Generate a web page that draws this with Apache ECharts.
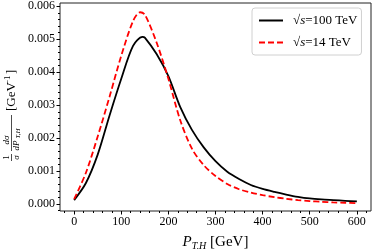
<!DOCTYPE html>
<html><head><meta charset="utf-8">
<script src="https://cdn.jsdelivr.net/npm/echarts@6/dist/echarts.min.js"></script>
<style>html,body{margin:0;padding:0;background:#fff}#c{width:374px;height:249px}</style>
</head><body><div id="c"></div>
<script>
// Data
const xBlack = [0, 25, 50, 75, 100, 125, 145, 150, 175, 200, 225, 250, 275, 300, 325, 350, 375, 400, 425, 450, 475, 500, 525, 550, 575, 600];
const yBlack = [0.00012, 0.00064, 0.00150, 0.00268, 0.00380, 0.00480, 0.00507, 0.00505, 0.00455, 0.00388, 0.00295, 0.00225, 0.00172, 0.00130, 0.00098, 0.00076, 0.00058, 0.00046, 0.00037, 0.00029, 0.00022, 0.00017, 0.00014, 0.00012, 0.00010, 0.00008];
const xRed = [0, 25, 50, 75, 100, 125, 140, 150, 175, 200, 225, 250, 275, 300, 325, 350, 375, 400, 425, 450, 475, 500, 525, 550, 575, 600];
const yRed = [0.00015, 0.00095, 0.00205, 0.00325, 0.00450, 0.00555, 0.00582, 0.00575, 0.00490, 0.00380, 0.00255, 0.00168, 0.00118, 0.00085, 0.00061, 0.00045, 0.00035, 0.00027, 0.00021, 0.00016, 0.00012, 0.00009, 0.00007, 0.00005, 0.00004, 0.00003];
const xTicks = [0, 100, 200, 300, 400, 500, 600];
const yTicks = [0, 0.001, 0.002, 0.003, 0.004, 0.005, 0.006];
const xMinor = [-20, 20, 40, 60, 80, 120, 140, 160, 180, 220, 240, 260, 280, 320, 340, 360, 380, 420, 440, 460, 480, 520, 540, 560, 580, 620];
const yMinor = [-0.0002, 0.0002, 0.0004, 0.0006, 0.0008, 0.0012, 0.0014, 0.0016, 0.0018, 0.0022, 0.0024, 0.0026, 0.0028, 0.0032, 0.0034, 0.0036, 0.0038, 0.0042, 0.0044, 0.0046, 0.0048, 0.0052, 0.0054, 0.0056, 0.0058];
const seriesNames = ['100', '14'];

const FONT = 'Liberation Serif';
const chart = echarts.init(document.getElementById('c'));
const pairs = (xs, ys) => xs.map((x, i) => [x, ys[i]]);
const xr = [-30, 630], yr = [-0.00021, 0.0061];

chart.setOption({
  animation: false,
  backgroundColor: '#fff',
  grid: { left: 60, right: 3, top: 3, bottom: 38, outerBoundsMode: 'none', containLabel: false,
    show: true, borderColor: '#222', borderWidth: 1, backgroundColor: 'transparent' },
  xAxis: [
    { type: 'value', min: xr[0], max: xr[1], axisLine: { show: false, onZero: false },
      axisTick: { show: true, length: 3.5, customValues: xTicks, lineStyle: { color: '#000' } },
      axisLabel: { customValues: xTicks, color: '#000', fontFamily: FONT, fontSize: 12, margin: 5 },
      splitLine: { show: false },
      name: '{i|P}{s|T,H}{n| [GeV]}', nameLocation: 'middle', nameGap: 22,
      nameTextStyle: { rich: {
        i: { fontFamily: FONT, fontStyle: 'italic', fontSize: 15, color: '#000' },
        s: { fontFamily: FONT, fontStyle: 'italic', fontSize: 10, color: '#000', padding: [8, 0, 0, 0] },
        n: { fontFamily: FONT, fontSize: 15, color: '#000' } } } },
    { type: 'value', min: xr[0], max: xr[1], position: 'bottom', axisLine: { show: false, onZero: false },
      axisTick: { show: true, length: 2, customValues: xMinor, lineStyle: { color: '#000' } },
      axisLabel: { show: false }, splitLine: { show: false } }
  ],
  yAxis: [
    { type: 'value', min: yr[0], max: yr[1], position: 'left', axisLine: { show: false, onZero: false },
      axisTick: { show: true, length: 3.5, customValues: yTicks, lineStyle: { color: '#000' } },
      axisLabel: { customValues: yTicks, color: '#000', fontFamily: FONT, fontSize: 12, margin: 5, formatter: v => v.toFixed(3) },
      splitLine: { show: false } },
    { type: 'value', min: yr[0], max: yr[1], position: 'left', axisLine: { show: false, onZero: false },
      axisTick: { show: true, length: 2, customValues: yMinor, lineStyle: { color: '#000' } },
      axisLabel: { show: false }, splitLine: { show: false } }
  ],
  legend: {
    left: 252, top: 8, orient: 'vertical', itemWidth: 24, itemHeight: 12, itemGap: 9,
    padding: [6, 4, 6, 6], backgroundColor: '#fff', borderColor: '#d0d0d0', borderWidth: 1, borderRadius: 3,
    itemStyle: { opacity: 0 },
    formatter: n => '{r|√}{i|s}{n|=' + n + ' TeV}',
    textStyle: { rich: {
      r: { fontFamily: FONT, fontSize: 13, color: '#000', padding: [0, 0, 0, 5] },
      n: { fontFamily: FONT, fontSize: 13, color: '#000' },
      i: { fontFamily: FONT, fontStyle: 'italic', fontSize: 13, color: '#000' } } },
    data: seriesNames
  },
  series: [
    { name: seriesNames[0], type: 'line', xAxisIndex: 0, yAxisIndex: 0, data: pairs(xBlack, yBlack), smooth: 0.3, symbol: 'none',
      lineStyle: { color: '#000', width: 1.8 }, itemStyle: { color: '#000' } },
    { name: seriesNames[1], type: 'line', xAxisIndex: 0, yAxisIndex: 0, data: pairs(xRed, yRed), smooth: 0.3, symbol: 'none',
      lineStyle: { color: '#ff0000', width: 1.8, type: [6, 3] }, itemStyle: { color: '#ff0000' } }
  ],
  graphic: [
    { type: 'group', x: 11.5, y: 161, rotation: Math.PI / 2, children: [
      { type: 'text', x: 3.5, y: -4.5, style: { text: '1', font: '9px ' + FONT, fill: '#000', align: 'center', verticalAlign: 'middle' } },
      { type: 'line', shape: { x1: 0, y1: 0, x2: 7, y2: 0 }, style: { stroke: '#000', lineWidth: 0.7 } },
      { type: 'text', x: 3.5, y: 5, style: { text: 'σ', font: 'italic 9px ' + FONT, fill: '#000', align: 'center', verticalAlign: 'middle' } },
      { type: 'text', x: 21, y: -4.5, style: { text: 'dσ', font: 'italic 9px ' + FONT, fill: '#000', align: 'center', verticalAlign: 'middle' } },
      { type: 'line', shape: { x1: 10, y1: 0, x2: 46, y2: 0 }, style: { stroke: '#000', lineWidth: 0.7 } },
      { type: 'text', x: 10.5, y: 5, style: { text: 'dP', font: 'italic 9px ' + FONT, fill: '#000', align: 'left', verticalAlign: 'middle' } },
      { type: 'text', x: 22.5, y: 7, style: { text: 'T,H', font: 'italic 7px ' + FONT, fill: '#000', align: 'left', verticalAlign: 'middle' } },
      { type: 'text', x: 50, y: 0, style: { text: '[GeV', font: '13px ' + FONT, fill: '#000', align: 'left', verticalAlign: 'middle' } },
      { type: 'text', x: 76, y: -4, style: { text: '−1', font: '9px ' + FONT, fill: '#000', align: 'left', verticalAlign: 'middle' } },
      { type: 'text', x: 87, y: 0, style: { text: ']', font: '13px ' + FONT, fill: '#000', align: 'left', verticalAlign: 'middle' } }
    ] }
  ]
});
</script></body></html>
